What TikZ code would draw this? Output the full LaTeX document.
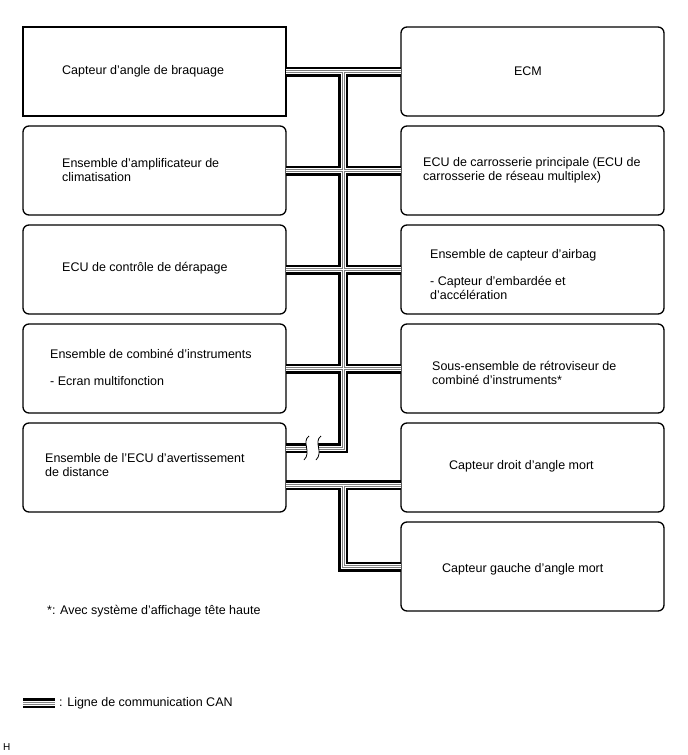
\documentclass[tikz,border=0pt]{standalone}
\usepackage{fontspec}
\setmainfont{Liberation Sans}
\begin{document}
\begin{tikzpicture}[x=1pt,y=-1pt,
  box/.style={draw=black,line width=1.3pt,rounded corners=6pt,minimum width=263pt,minimum height=89pt,outer sep=0pt,inner sep=0pt},
  sqbox/.style={box,rounded corners=0pt},
  txt/.style={font=\fontsize{12.5}{14}\selectfont,inner sep=0pt,anchor=west,align=left},
  brk/.style={draw=black,line width=0.8pt}]
\useasboundingbox (0,0) rectangle (688,755);
% boxes
\node[sqbox] (L1) at (154.5,71.5) {};
\node[box] (L2) at (154.5,170.5) {};
\node[box] (L3) at (154.5,269.5) {};
\node[box] (L4) at (154.5,368.5) {};
\node[box] (L5) at (154.5,467.5) {};
\node[box] (R1) at (532.5,71.5) {};
\node[box] (R2) at (532.5,170.5) {};
\node[box] (R3) at (532.5,269.5) {};
\node[box] (R4) at (532.5,368.5) {};
\node[box] (R5) at (532.5,467.5) {};
\node[box] (R6) at (532.5,566.5) {};
% texts
\node[txt] (tL1) at (62,71.5) {Capteur d'angle de braquage};
\node[txt] (tL2) at (62,170.5) {Ensemble d'amplificateur de\\climatisation};
\node[txt] (tL3) at (62,268) {ECU de contrôle de dérapage};
\node[txt] (tL4a) at (50,354) {Ensemble de combiné d'instruments};
\node[txt] (tL4b) at (50,381) {- Ecran multifonction};
\node[txt] (tL5) at (45,465.5) {Ensemble de l'ECU d'avertissement\\de distance};
\node[txt,anchor=center] (tR1) at (528,71.5) {ECM};
\node[txt] (tR2) at (423,170.5) {ECU de carrosserie principale (ECU de\\carrosserie de réseau multiplex)};
\node[txt] (tR3a) at (430,255) {Ensemble de capteur d'airbag};
\node[txt] (tR3b) at (430,287.5) {- Capteur d'embardée et\\d'accélération};
\node[txt] (tR4) at (432,372.5) {Sous-ensemble de rétroviseur de\\combiné d'instruments*};
\node[txt] (tR5) at (449,466) {Capteur droit d'angle mort};
\node[txt] (tR6) at (442,569) {Capteur gauche d'angle mort};
\node[txt] (fn) at (47,611) {*: Avec système d'affichage tête haute};
\node[txt] (lg) at (59,703) {: Ligne de communication CAN};
\node[txt,font=\fontsize{10}{11}\selectfont] (hh) at (3,747) {H};
% network coordinates
\coordinate (tt) at (343,71.5);
\coordinate (tb) at (343,448);
\coordinate (n2) at (343,485);
\coordinate (lga) at (23,703);
\coordinate (lgb) at (55,703);
\foreach \w/\c in {10/black,5/white,3/gray,1/white}{
  \draw[line width=\w pt,color=\c]
    (L1.east) -- (R1.west)
    (L2.east) -- (R2.west)
    (L3.east) -- (R3.west)
    (L4.east) -- (R4.west)
    (tt) -- (tb) -- (tb -| L5.east)
    (n2 -| L5.east) -- (n2 -| R5.west)
    (n2) |- (R6.west)
    (lga) -- (lgb);
}
% break mark
\fill[white] (309,436) .. controls (301,442) and (312,452) .. (304,460)
  -- (316,460) .. controls (324,452) and (313,442) .. (321,436) -- cycle;
\draw[brk] (309,436) .. controls (301,442) and (312,452) .. (304,460);
\draw[brk] (321,436) .. controls (313,442) and (324,452) .. (316,460);
\end{tikzpicture}
\end{document}
